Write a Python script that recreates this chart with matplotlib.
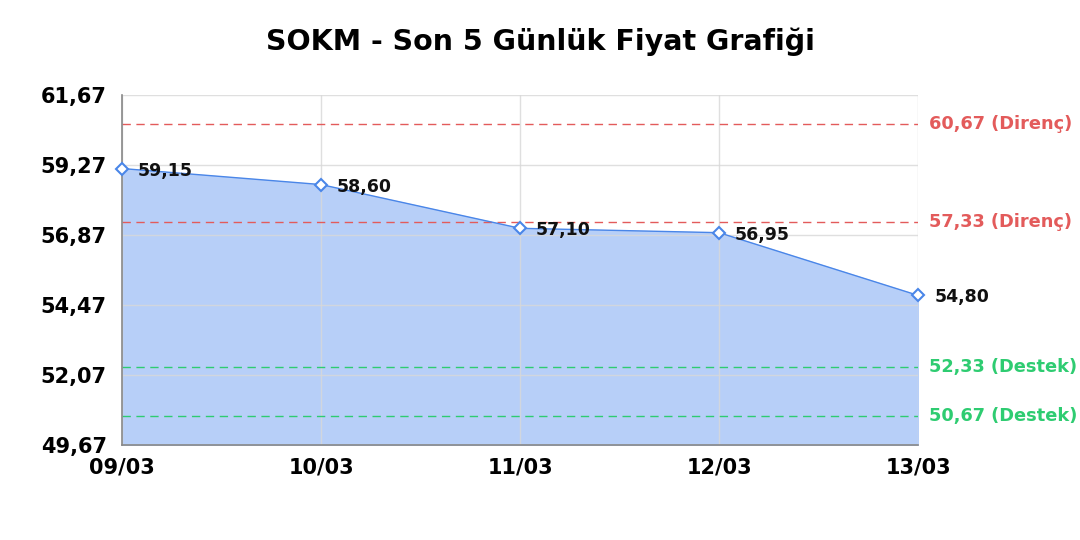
import numpy as np
import matplotlib.pyplot as plt

plt.rcParams['font.family'] = ['DejaVu Sans']

# === Data ===
dates = ["09/03", "10/03", "11/03", "12/03", "13/03"]
prices = [59.15, 58.60, 57.10, 56.95, 54.80]
resistance = [60.67, 57.33]
support = [52.33, 50.67]
y_ticks = [49.67, 52.07, 54.47, 56.87, 59.27, 61.67]

line_color = "#4a86e8"
fill_color = "#b7cff8"
red = "#e35b5b"
green = "#2ecc71"

fig = plt.figure(figsize=(10.8, 5.4), dpi=100)
ax = fig.add_axes([0.113, 0.176, 0.737, 0.648])

x = np.arange(len(dates))
ax.fill_between(x, prices, y_ticks[0], color=fill_color, zorder=1)
ax.plot(x, prices, color=line_color, linewidth=1.0, zorder=3)
ax.plot(x, prices, linestyle="none", marker="D", markersize=6.5,
        markerfacecolor="white", markeredgecolor=line_color,
        markeredgewidth=1.5, zorder=4, clip_on=False)

for i, p in enumerate(prices):
    dx = 11 if i < len(prices) - 1 else 12
    ax.annotate(f"{p:.2f}".replace(".", ","), (x[i], p),
                xytext=(dx, -1.5), textcoords="offset points",
                ha="left", va="center", fontsize=12.5, fontweight="bold",
                color="#111111", zorder=5)

for r in resistance:
    ax.axhline(r, color=red, linestyle=(0, (6, 4)), linewidth=1.0, zorder=2)
    ax.text(1.014, r, f"{r:.2f} (Direnç)".replace(".", ","),
            transform=ax.get_yaxis_transform(), ha="left", va="center",
            fontsize=12.8, fontweight="bold", color=red)
for s in support:
    ax.axhline(s, color=green, linestyle=(0, (6, 4)), linewidth=1.0, zorder=2)
    ax.text(1.014, s, f"{s:.2f} (Destek)".replace(".", ","),
            transform=ax.get_yaxis_transform(), ha="left", va="center",
            fontsize=12.8, fontweight="bold", color=green)

ax.set_xlim(0, len(dates) - 1)
ax.set_ylim(y_ticks[0], y_ticks[-1])
ax.set_xticks(x)
ax.set_xticklabels(dates, fontsize=15, fontweight="bold")
ax.set_yticks(y_ticks)
ax.set_yticklabels([f"{t:.2f}".replace(".", ",") for t in y_ticks],
                   fontsize=15, fontweight="bold")
ax.tick_params(axis="y", length=0, pad=11)
ax.tick_params(axis="x", length=0, pad=9)
ax.set_axisbelow("line")
ax.grid(True, color="#d8d8d8", linewidth=1.0, alpha=0.8)
for side in ["top", "right"]:
    ax.spines[side].set_visible(False)
for side in ["left", "bottom"]:
    ax.spines[side].set_color("#888888")
    ax.spines[side].set_linewidth(1.2)

fig.suptitle("SOKM - Son 5 Günlük Fiyat Grafiği", fontsize=20.5,
             fontweight="bold", y=0.95)

fig.savefig("out.png", dpi=100)
